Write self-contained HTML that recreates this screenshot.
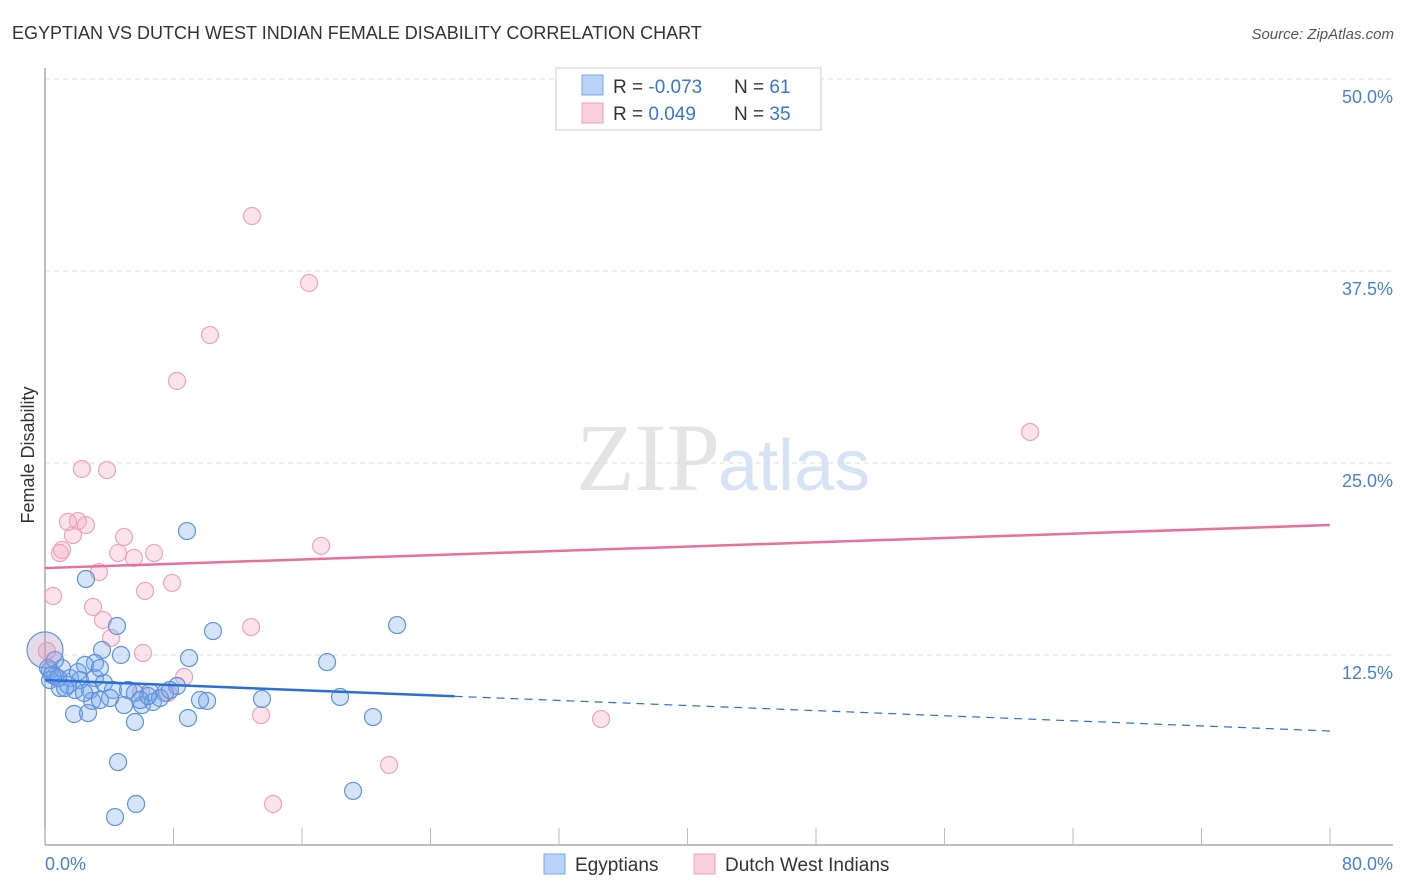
<!DOCTYPE html>
<html><head><meta charset="utf-8"><style>
body{margin:0;background:#fff;font-family:"Liberation Sans",sans-serif;}
svg{display:block}
</style></head><body>
<svg id="chart" width="1406" height="892" xmlns="http://www.w3.org/2000/svg">
<text x="12" y="39" font-size="18" fill="#333">EGYPTIAN VS DUTCH WEST INDIAN FEMALE DISABILITY CORRELATION CHART</text>
<text x="1394" y="39" font-size="15" fill="#555" font-style="italic" text-anchor="end">Source: ZipAtlas.com</text>
<text x="720" y="490" font-size="96" fill="#e4e4e4" text-anchor="end" font-family="Liberation Serif,serif">ZIP</text>
<text x="718" y="490" font-size="72" fill="#d6e3f5">atlas</text>
<g id="grid"></g>
<line x1="45" y1="68" x2="45" y2="845" stroke="#aaa" stroke-width="1.5"/>
<line x1="45" y1="845" x2="1393" y2="845" stroke="#aaa" stroke-width="1.5"/>
<g id="xticks"></g>
<text transform="translate(34,455) rotate(-90)" font-size="18" fill="#333" text-anchor="middle">Female Disability</text>
<text x="45" y="870" font-size="18" fill="#4a7fd4">0.0%</text>
<text x="1393" y="870" font-size="18" fill="#4a7fd4" text-anchor="end">80.0%</text>
<g id="points"></g>
<g id="trends"></g>
<g>
<rect x="556" y="68" width="265" height="62" fill="#fff" stroke="#ccc"/>
<rect x="582" y="75" width="21" height="20" fill="#b8d3f5" stroke="#7aa7e6"/>
<rect x="582" y="103" width="21" height="20" fill="#fccfdc" stroke="#eea0b9"/>
<text x="613" y="93" font-size="19" fill="#333">R = <tspan fill="#3a75d0">-0.073</tspan></text>
<text x="734" y="93" font-size="19" fill="#333">N = <tspan fill="#3a75d0"> 61</tspan></text>
<text x="613" y="120" font-size="19" fill="#333">R = <tspan fill="#3a75d0"> 0.049</tspan></text>
<text x="734" y="120" font-size="19" fill="#333">N = <tspan fill="#3a75d0">35</tspan></text>
</g>
<g><rect x="544" y="854" width="21" height="20" fill="#b8d3f5" stroke="#7aa7e6"/><text x="575" y="871" font-size="19" fill="#333">Egyptians</text></g>
<g><rect x="694" y="854" width="21" height="20" fill="#fccfdc" stroke="#eea0b9"/><text x="725" y="871" font-size="19" fill="#333">Dutch West Indians</text></g>
</svg>
<script>
const yTicks=[12.5,25,37.5,50];
const yTickLabels=["12.5%","25.0%","37.5%","50.0%"];
const xTicks=[0,8,16,24,32,40,48,56,64,72,80];
const blueX=[8.84,2.55,4.48,10.46,21.92,3.55,4.73,8.97,17.56,3.11,2.49,1.06,0.31,0.62,1.56,2.18,3.11,3.67,0.93,1.87,2.80,4.23,5.17,6.54,7.47,5.60,8.22,13.51,18.37,10.09,2.93,3.42,6.04,4.92,6.72,1.81,2.68,8.90,20.42,5.60,4.55,5.67,4.36,19.18,0.31,0.19,0.62,1.25,7.16,6.41,4.05,2.43,0.44,1.43,2.05,3.42,5.92,7.78,9.65,0.0,0.81];
const blueY=[20.57,17.45,14.39,14.06,14.45,12.83,12.5,12.3,12.04,11.98,11.85,11.65,11.52,11.13,11.0,10.87,11.0,10.68,10.35,10.22,10.22,10.22,10.22,10.09,10.03,10.03,10.48,9.64,9.77,9.51,9.51,9.57,9.24,9.24,9.44,8.66,8.72,8.40,8.46,8.14,5.53,2.80,1.95,3.65,10.87,11.65,12.17,10.35,9.70,9.83,9.70,10.03,11.2,10.55,11.39,11.65,9.57,10.22,9.57,12.83,11.0];
const pinkX=[12.89,16.44,10.27,8.22,61.33,2.30,3.86,1.43,2.05,2.55,1.74,4.92,17.19,0.93,6.79,4.55,5.54,3.36,7.91,6.23,0.50,2.99,3.61,12.83,4.11,6.10,0.12,8.66,5.98,7.66,13.45,34.62,21.42,14.20,1.06];
const pinkY=[41.08,36.72,33.33,30.34,27.02,24.61,24.54,21.16,21.22,20.96,20.31,20.18,19.60,19.14,19.14,19.14,18.82,17.90,17.19,16.67,16.34,15.63,14.78,14.32,13.61,12.63,12.76,11.07,10.09,10.03,8.59,8.33,5.34,2.80,19.34];
const blueTrend=[10.87,7.55];
const pinkTrend=[18.16,20.96];
const blueSolidEnd=25.5;
const NS="http://www.w3.org/2000/svg";
const xs=v=>45+v*(1285/80);
const ys=v=>847-v*15.36;
function mk(tag,attrs,parent){const e=document.createElementNS(NS,tag);for(const k in attrs)e.setAttribute(k,attrs[k]);parent.appendChild(e);return e;}
const grid=document.getElementById('grid');
yTicks.forEach((t,i)=>{
  const l=mk('line',{x1:45,x2:1393,y1:ys(t),y2:ys(t),stroke:'#ddd','stroke-dasharray':'5,4'},grid);
  
  
  const tx=mk('text',{x:1393,y:ys(t)+24,'font-size':18,fill:'#4a7fd4','text-anchor':'end'},grid);
  tx.textContent=yTickLabels[i];
  
  
});
const xt=document.getElementById('xticks');
xTicks.forEach(t=>{
  const l=mk('line',{x1:xs(t),x2:xs(t),y1:828,y2:845,stroke:'#bbb'},xt);
  
  
});
const pts=document.getElementById('points');
pinkX.forEach((x,i)=>{
  const c=mk('circle',{cx:xs(x),cy:ys(pinkY[i]),r:8.5,fill:'rgba(245,160,190,0.3)',stroke:'#eea3bd','stroke-width':1.2},pts);
  
  
});
blueX.forEach((x,i)=>{
  const big=(x===0);
  const c=mk('circle',{cx:xs(x),cy:ys(blueY[i]),r:big?18:8.5,fill:big?'rgba(180,150,190,0.35)':'rgba(120,165,235,0.3)',stroke:'#5e93dc','stroke-width':1.2},pts);
  
  
});
const tr=document.getElementById('trends');
const bAt=v=>blueTrend[0]+(blueTrend[1]-blueTrend[0])*v/80;
let l1=mk('line',{x1:xs(0),y1:ys(pinkTrend[0]),x2:xs(80),y2:ys(pinkTrend[1]),stroke:'#e8709a','stroke-width':2.5},tr);


let l2=mk('line',{x1:xs(0),y1:ys(bAt(0)),x2:xs(blueSolidEnd),y2:ys(bAt(blueSolidEnd)),stroke:'#2a6fd6','stroke-width':2.5},tr);


let l3=mk('line',{x1:xs(blueSolidEnd),y1:ys(bAt(blueSolidEnd)),x2:xs(80),y2:ys(bAt(80)),stroke:'#2a6fd6','stroke-width':1.2,'stroke-dasharray':'8,6'},tr);


</script>
</body></html>
